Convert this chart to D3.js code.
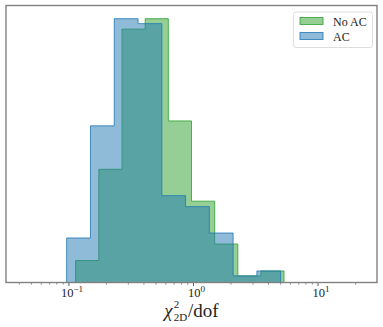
<!DOCTYPE html>
<html>
<head>
<meta charset="utf-8">
<script src="https://cdn.jsdelivr.net/npm/d3@7"></script>
<style>
  body { margin: 0; background: #fff; }
  svg { display: block; font-family: "Liberation Serif", "DejaVu Serif", serif; }
</style>
</head>
<body>
<div id="chart"></div>
<script>
// Histogram bins (log-spaced edges) and heights
const noAcEdges = [0.1132, 0.1738, 0.2667, 0.4093, 0.6281, 0.9638, 1.479, 2.270, 3.477, 5.33];
const noAcHeights = [4.0, 20.6, 46.1, 48.0, 29.4, 14.8, 7.0, 1.2, 2.1];
const acEdges = [0.0959, 0.1489, 0.2312, 0.3589, 0.5572, 0.8636, 1.340, 2.080, 3.228, 5.01];
const acHeights = [8.1, 28.5, 48.0, 47.1, 15.8, 13.8, 9.0, 1.2, 2.1];
const majorTicks = [0.1, 1, 10];
const majorLabels = ['\u22121', '0', '1'];
const seriesNames = ['No AC', 'AC'];

const width = 383, height = 327;
const margin = { top: 5.5, right: 6, bottom: 44.5, left: 6 };

const svg = d3.select('#chart').append('svg')
  .attr('width', width)
  .attr('height', height);

const x = d3.scaleLog()
  .domain([0.03125, 29.73])
  .range([margin.left, width - margin.right]);

const y = d3.scaleLinear()
  .domain([0, 48 * 1.05])
  .range([height - margin.bottom, margin.top]);

// build a step outline for a histogram
function stepPath(edges, heights) {
  const pts = [[edges[0], 0]];
  heights.forEach((h, i) => {
    pts.push([edges[i], h]);
    pts.push([edges[i + 1], h]);
  });
  pts.push([edges[edges.length - 1], 0]);
  return d3.line().x(d => x(d[0])).y(d => y(d[1]))(pts);
}

const series = [
  { name: seriesNames[0], edges: noAcEdges, heights: noAcHeights, color: '#2ca02c' },
  { name: seriesNames[1], edges: acEdges, heights: acHeights, color: '#1f77b4' }
];

series.forEach(s => {
  svg.append('path')
    .attr('d', stepPath(s.edges, s.heights))
    .attr('fill', s.color)
    .attr('fill-opacity', 0.5)
    .attr('stroke', s.color)
    .attr('stroke-opacity', 0.8)
    .attr('stroke-width', 1);
});

// x axis ticks
const axisY = height - margin.bottom;
const [x0, x1] = x.domain();
const minor = [];
for (let e = -2; e <= 1; e++) {
  for (let m = 2; m <= 9; m++) {
    const v = m * Math.pow(10, e);
    if (v > x0 && v < x1) minor.push(v);
  }
}
svg.append('g').selectAll('line.minor')
  .data(minor)
  .enter().append('line')
  .attr('x1', d => x(d)).attr('x2', d => x(d))
  .attr('y1', axisY).attr('y2', axisY + 2)
  .attr('stroke', '#333').attr('stroke-width', 0.6);

svg.append('g').selectAll('line.major')
  .data(majorTicks)
  .enter().append('line')
  .attr('x1', d => x(d)).attr('x2', d => x(d))
  .attr('y1', axisY).attr('y2', axisY + 3.5)
  .attr('stroke', '#333').attr('stroke-width', 0.8);

const labels = svg.append('g').selectAll('text')
  .data(majorTicks)
  .enter().append('text')
  .attr('x', d => x(d) + 3)
  .attr('y', 296.5)
  .attr('text-anchor', 'middle')
  .attr('font-size', 12.5)
  .attr('fill', '#222');
labels.append('tspan').text('10');
labels.append('tspan')
  .attr('dy', -5)
  .attr('font-size', 9)
  .text((d, i) => majorLabels[i]);

// frame
svg.append('rect')
  .attr('x', margin.left)
  .attr('y', margin.top)
  .attr('width', width - margin.left - margin.right)
  .attr('height', height - margin.top - margin.bottom)
  .attr('fill', 'none')
  .attr('stroke', '#808080')
  .attr('stroke-width', 1.4);

// x label: chi^2_2D / dof
const xl = svg.append('text')
  .attr('x', 191.5)
  .attr('y', 316.5)
  .attr('text-anchor', 'middle')
  .attr('font-size', 19)
  .attr('fill', '#222');
xl.append('tspan').attr('font-style', 'italic').text('\u03c7');
xl.append('tspan').attr('font-size', 11).attr('dy', -8.5).attr('dx', 1).text('2');
xl.append('tspan').attr('font-size', 11).attr('dy', 13).attr('dx', -5.5).text('2D');
xl.append('tspan').attr('dy', -4.5).attr('dx', 1).text('/dof');

// legend
const lg = svg.append('g');
lg.append('rect')
  .attr('x', 293.5).attr('y', 12)
  .attr('width', 79).attr('height', 35.5)
  .attr('rx', 2.5)
  .attr('fill', '#fff').attr('fill-opacity', 0.8)
  .attr('stroke', '#d6d6d6').attr('stroke-width', 0.8);
series.forEach((s, i) => {
  lg.append('rect')
    .attr('x', 300).attr('y', 17.5 + i * 15)
    .attr('width', 23).attr('height', 7)
    .attr('fill', s.color).attr('fill-opacity', 0.5)
    .attr('stroke', s.color).attr('stroke-opacity', 0.8);
  lg.append('text')
    .attr('x', 333).attr('y', 25.5 + i * 15)
    .attr('font-size', 12)
    .attr('fill', '#222')
    .text(s.name);
});
</script>
</body>
</html>
